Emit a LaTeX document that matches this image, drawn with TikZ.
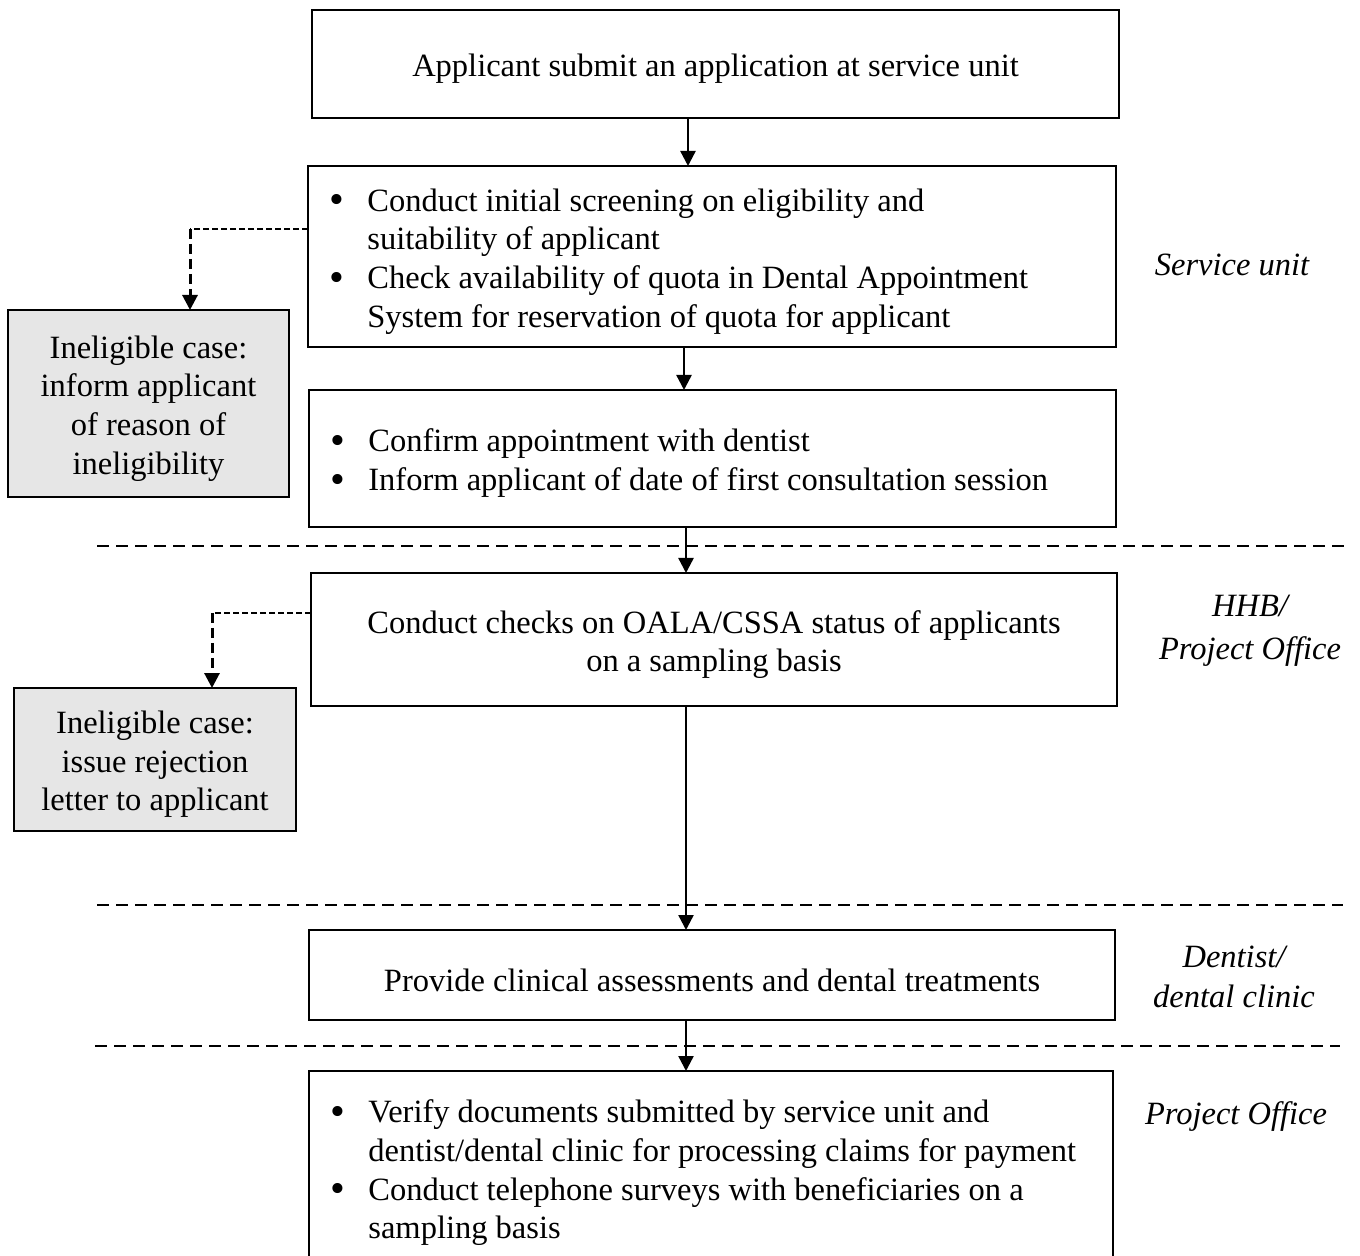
\documentclass[tikz,border=0pt]{standalone}
\usepackage{fontspec}
\setmainfont{Liberation Serif}
\usetikzlibrary{arrows.meta}
\newcommand\myfont{\fontsize{16.25}{19.3}\selectfont}
\newcommand\mybul{\raisebox{-0.08em}{\scalebox{1.3}{\textbullet}}}
\definecolor{grayfill}{RGB}{230,230,230}
\begin{document}
\begin{tikzpicture}[x=0.5pt,y=-0.5pt,
  box/.style={draw, line width=1pt, inner sep=0pt, outer sep=0pt, fill=white},
  gbox/.style={draw, line width=1pt, inner sep=0pt, outer sep=0pt, fill=grayfill},
  ctext/.style={inner sep=0pt, align=center, font=\myfont, yshift=-2.5pt},
  btext/.style={anchor=west, xshift=10.5pt, yshift=-2.5pt, inner sep=0pt, font=\myfont},
  side/.style={font=\myfont\itshape, align=center, inner sep=0pt},
  arr/.style={line width=1.2pt, -{Triangle[length=7.5pt,width=7.5pt]}},
  sep/.style={line width=1.2pt, dash pattern=on 6pt off 3.5pt},
  dh/.style={line width=0.6pt, dash pattern=on 3pt off 1.5pt},
  dv/.style={line width=1.5pt, dash pattern=on 5pt off 2.5pt, -{Triangle[length=7.5pt,width=7.5pt]}}
]
\clip (0,0) rectangle (1360,1256);
\fill[white] (0,0) rectangle (1360,1256);

% separators
\draw[sep] (97,546) -- (1350,546);
\draw[sep] (97,905) -- (1343,905);
\draw[sep] (95,1046) -- (1340,1046);

% main boxes
\node[box, minimum width=403.5pt, minimum height=54pt] (b1) at (715.5,64) {};
\node[ctext] (t1) at (b1.center) {Applicant submit an application at service unit};
\node[box, minimum width=404pt, minimum height=90.5pt] (b2) at (712,256.5) {};
\node[btext] (t2) at (b2.west) {\begin{tabular}{@{}p{19pt}@{}l@{}}
\mybul & Conduct initial screening on eligibility and\\
 & suitability of applicant\\
\mybul & Check availability of quota in Dental Appointment\\
 & System for reservation of quota for applicant
\end{tabular}};
\node[box, minimum width=403.5pt, minimum height=68.5pt] (b3) at (712.5,458.5) {};
\node[btext] (t3) at (b3.west) {\begin{tabular}{@{}p{19pt}@{}l@{}}
\mybul & Confirm appointment with dentist\\
\mybul & Inform applicant of date of first consultation session
\end{tabular}};
\node[box, minimum width=403pt, minimum height=66.5pt] (b4) at (714,639.5) {};
\node[ctext] (t4) at (b4.center) {Conduct checks on OALA/CSSA status of applicants\\on a sampling basis};
\node[box, minimum width=403pt, minimum height=45pt] (b5) at (712,975) {};
\node[ctext] (t5) at (b5.center) {Provide clinical assessments and dental treatments};
\node[box, minimum width=402pt, minimum height=97pt] (b6) at (711,1168) {};
\node[btext] (t6) at (b6.west) {\begin{tabular}{@{}p{19pt}@{}l@{}}
\mybul & Verify documents submitted by service unit and\\
 & dentist/dental clinic for processing claims for payment\\
\mybul & Conduct telephone surveys with beneficiaries on a\\
 & sampling basis
\end{tabular}};

% gray boxes
\node[gbox, minimum width=140.5pt, minimum height=93.5pt] (g1) at (148.5,403.5) {};
\node[ctext] (tg1) at (g1.center) {Ineligible case:\\inform applicant\\of reason of\\ineligibility};
\node[gbox, minimum width=141pt, minimum height=71.5pt] (g2) at (155,759.5) {};
\node[ctext] (tg2) at (g2.center) {Ineligible case:\\issue rejection\\letter to applicant};

% side labels
\node[side] (s1) at (1232,265) {Service unit};
\node[side] (s2) at (1250,631) {HHB/\\[2.2pt]Project Office};
\node[side] (s3) at (1234,977) {Dentist/\\[0.7pt]dental clinic};
\node[side] (s4) at (1236,1117) {Project Office};

% arrows
\coordinate (xa) at (688,0);
\coordinate (xb) at (684,0);
\coordinate (xc) at (686,0);
\draw[arr] (xa |- b1.south) -- (xa |- b2.north);
\draw[arr] (xb |- b2.south) -- (xb |- b3.north);
\draw[arr] (xc |- b3.south) -- (xc |- b4.north);
\draw[arr] (xc |- b4.south) -- (xc |- b5.north);
\draw[arr] (xc |- b5.south) -- (xc |- b6.north);

% dashed side connectors
\coordinate (k1) at (190,229);
\draw[dh] (b2.west |- k1) -- (k1);
\draw[dv] (k1) -- (k1 |- g1.north);
\coordinate (k2) at (212,613);
\draw[dh] (b4.west |- k2) -- (k2);
\draw[dv] (k2) -- (k2 |- g2.north);
\end{tikzpicture}
\end{document}
